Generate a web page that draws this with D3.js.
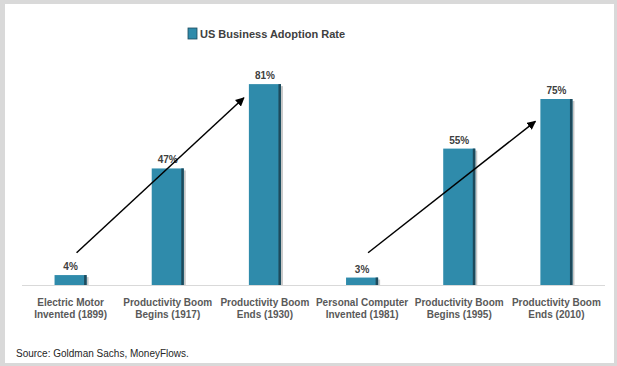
<!DOCTYPE html>
<html>
<head>
<meta charset="utf-8">
<script src="https://cdn.jsdelivr.net/npm/d3@7"></script>
<style>
  html, body { margin: 0; padding: 0; background: #d9d9d9; }
  svg { display: block; font-family: "Liberation Sans", Arial, sans-serif; }
</style>
</head>
<body>
<svg id="chart" width="617" height="366"></svg>
<script>
// chart data
const categories = [
    ["Electric Motor", "Invented (1899)"],
    ["Productivity Boom", "Begins (1917)"],
    ["Productivity Boom", "Ends (1930)"],
    ["Personal Computer", "Invented (1981)"],
    ["Productivity Boom", "Begins (1995)"],
    ["Productivity Boom", "Ends (2010)"]
];
const adoption = [4, 47, 81, 3, 55, 75];
const seriesName = "US Business Adoption Rate";
const source = "Source: Goldman Sachs, MoneyFlows.";
// trend arrows: from bar index -> to bar index, start/end value levels
const arrows = [
    { from: 0, to: 2, v0: 13, v1: 75.5 },
    { from: 3, to: 5, v0: 13, v1: 66 }
];

const svg = d3.select("#chart");
const W = 617, H = 366;

// white panel
svg.append("rect")
    .attr("x", 5).attr("y", 4)
    .attr("width", 609).attr("height", 359)
    .attr("fill", "#fff");

const keys = categories.map((c, i) => i);

const x = d3.scaleBand()
    .domain(keys)
    .range([22, 605])
    .paddingInner(0.67)
    .paddingOuter(0.335);

const y = d3.scaleLinear()
    .domain([0, 100])
    .range([285, 37]);

const barColor = "#2f8bab";
const edgeColor = "#1d4a5c";

// baseline
svg.append("line")
    .attr("x1", 22).attr("x2", 605)
    .attr("y1", y(0) + 0.5).attr("y2", y(0) + 0.5)
    .attr("stroke", "#d9d9d9")
    .attr("stroke-width", 1);

const bars = svg.append("g");

// soft shadow
bars.selectAll("rect.shadow")
    .data(adoption)
    .join("rect")
    .attr("class", "shadow")
    .attr("x", (d, i) => x(i) + 2)
    .attr("y", d => y(d) + 2)
    .attr("width", x.bandwidth())
    .attr("height", d => y(0) - y(d) - 2)
    .attr("fill", "#c8c8c8");

bars.selectAll("rect.bar")
    .data(adoption)
    .join("rect")
    .attr("class", "bar")
    .attr("x", (d, i) => x(i))
    .attr("y", d => y(d))
    .attr("width", x.bandwidth())
    .attr("height", d => y(0) - y(d))
    .attr("fill", barColor);

// dark right edge
bars.selectAll("rect.edge")
    .data(adoption)
    .join("rect")
    .attr("class", "edge")
    .attr("x", (d, i) => x(i) + x.bandwidth() - 2.5)
    .attr("y", d => y(d))
    .attr("width", 2.5)
    .attr("height", d => y(0) - y(d))
    .attr("fill", edgeColor);

// value labels
svg.append("g").selectAll("text")
    .data(adoption)
    .join("text")
    .attr("x", (d, i) => x(i) + x.bandwidth() / 2)
    .attr("y", d => y(d) - 5)
    .attr("text-anchor", "middle")
    .attr("font-size", 10)
    .attr("font-weight", "bold")
    .attr("fill", "#404040")
    .text(d => d + "%");

// category labels
const lab = svg.append("g").selectAll("text")
    .data(categories)
    .join("text")
    .attr("x", (d, i) => x(i) + x.bandwidth() / 2)
    .attr("y", 306)
    .attr("text-anchor", "middle")
    .attr("font-size", 10)
    .attr("font-weight", "bold")
    .attr("fill", "#595959");

lab.selectAll("tspan")
    .data(d => d)
    .join("tspan")
    .attr("x", function () { return d3.select(this.parentNode).attr("x"); })
    .attr("dy", (d, i) => i === 0 ? 0 : 11.5)
    .text(d => d);

// arrows
svg.append("defs").append("marker")
    .attr("id", "head")
    .attr("viewBox", "0 0 10 10")
    .attr("refX", 9).attr("refY", 5)
    .attr("markerWidth", 6).attr("markerHeight", 6)
    .attr("orient", "auto")
    .append("path")
    .attr("d", "M0,0 L10,5 L0,10 z")
    .attr("fill", "#000");

svg.append("g").selectAll("line")
    .data(arrows)
    .join("line")
    .attr("x1", d => x(d.from) + x.bandwidth() / 2 + 6)
    .attr("y1", d => y(d.v0))
    .attr("x2", d => x(d.to) - 5)
    .attr("y2", d => y(d.v1))
    .attr("stroke", "#000")
    .attr("stroke-width", 1.5)
    .attr("marker-end", "url(#head)");

// legend / title
const legend = svg.append("g");
legend.append("rect")
    .attr("x", 188).attr("y", 28)
    .attr("width", 9).attr("height", 11)
    .attr("fill", barColor)
    .attr("stroke", edgeColor)
    .attr("stroke-width", 0.8);
legend.append("text")
    .attr("x", 200).attr("y", 38)
    .attr("font-size", 11)
    .attr("font-weight", "bold")
    .attr("fill", "#404040")
    .text(seriesName);

// source
svg.append("text")
    .attr("x", 16).attr("y", 357)
    .attr("font-size", 10)
    .attr("fill", "#262626")
    .text(source);
</script>
</body>
</html>
